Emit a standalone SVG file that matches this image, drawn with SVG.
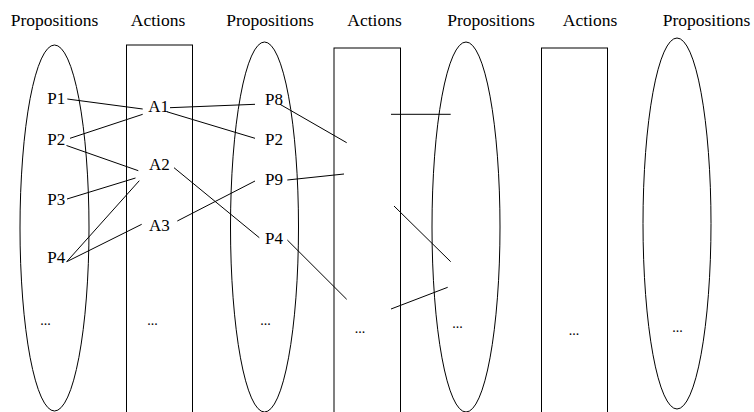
<svg xmlns="http://www.w3.org/2000/svg" width="754" height="412" viewBox="0 0 754 412">
<style>
.shape{fill:none;stroke:#000;stroke-width:1}
.conn line{stroke:#000;stroke-width:1}
.title{font-size:17.5px;fill:#000;text-anchor:middle}
.lbl{font-size:17px;fill:#000}
.dots{font-size:14px;fill:#000;text-anchor:middle}
</style>
<rect width="754" height="412" fill="#fff"/>
<g font-family="Liberation Serif, Times New Roman, serif">
<g id="titles">
<text class="title" x="54.5" y="25.5">Propositions</text>
<text class="title" x="158" y="25.5">Actions</text>
<text class="title" x="270" y="25.5">Propositions</text>
<text class="title" x="374.5" y="25.5">Actions</text>
<text class="title" x="491" y="25.5">Propositions</text>
<text class="title" x="590" y="25.5">Actions</text>
<text class="title" x="706.5" y="25.5">Propositions</text>
</g>
<g id="prop1"><ellipse class="shape" cx="54.5" cy="228" rx="34.5" ry="183"/><text class="dots" x="45.5" y="325">...</text></g>
<g id="act1"><rect class="shape" x="126.5" y="45" width="66" height="380"/><text class="dots" x="152.5" y="325">...</text></g>
<g id="prop2"><ellipse class="shape" cx="264.5" cy="227" rx="34" ry="185"/><text class="dots" x="265.5" y="325">...</text></g>
<g id="act2"><rect class="shape" x="334" y="48" width="66.5" height="380"/><text class="dots" x="360" y="332.5">...</text></g>
<g id="prop3"><ellipse class="shape" cx="466" cy="227" rx="34" ry="185"/><text class="dots" x="457.5" y="328">...</text></g>
<g id="act3"><rect class="shape" x="541.5" y="48" width="66" height="380"/><text class="dots" x="574" y="335">...</text></g>
<g id="prop4"><ellipse class="shape" cx="677" cy="223.5" rx="34" ry="185.5"/><text class="dots" x="677.5" y="332">...</text></g>
<g id="labels">
<text id="P1" class="lbl" x="47.3" y="104.3">P1</text>
<text id="P2a" class="lbl" x="47.3" y="145">P2</text>
<text id="P3" class="lbl" x="47.3" y="205">P3</text>
<text id="P4a" class="lbl" x="47.3" y="262.7">P4</text>
<text id="A1" class="lbl" x="148.3" y="111.7">A1</text>
<text id="A2" class="lbl" x="149" y="170">A2</text>
<text id="A3" class="lbl" x="149" y="231">A3</text>
<text id="P8" class="lbl" x="265" y="105">P8</text>
<text id="P2b" class="lbl" x="265" y="145">P2</text>
<text id="P9" class="lbl" x="265" y="185">P9</text>
<text id="P4b" class="lbl" x="265" y="244.3">P4</text>
</g>
</g>
<g id="connectors" class="conn">
<line x1="67.3" y1="99" x2="142.7" y2="109"/>
<line x1="70" y1="138.3" x2="142.7" y2="114.3"/>
<line x1="66.5" y1="145.5" x2="138.3" y2="170.7"/>
<line x1="67" y1="199" x2="135.5" y2="178"/>
<line x1="66.7" y1="261.7" x2="139.3" y2="180.7"/>
<line x1="66.7" y1="261.7" x2="141.7" y2="224.3"/>
<line x1="170" y1="107.7" x2="255" y2="104.3"/>
<line x1="166.7" y1="111.7" x2="255" y2="138.3"/>
<line x1="174" y1="167.7" x2="259.3" y2="237.7"/>
<line x1="177.3" y1="221" x2="255" y2="181"/>
<line x1="280" y1="104.3" x2="346.7" y2="142.7"/>
<line x1="287.3" y1="180" x2="344" y2="174"/>
<line x1="287.3" y1="240" x2="346.7" y2="299.3"/>
<line x1="391" y1="114.3" x2="450.7" y2="114.3"/>
<line x1="394" y1="206" x2="450.7" y2="261.7"/>
<line x1="391" y1="309" x2="447.7" y2="287.3"/>
</g>
</svg>
